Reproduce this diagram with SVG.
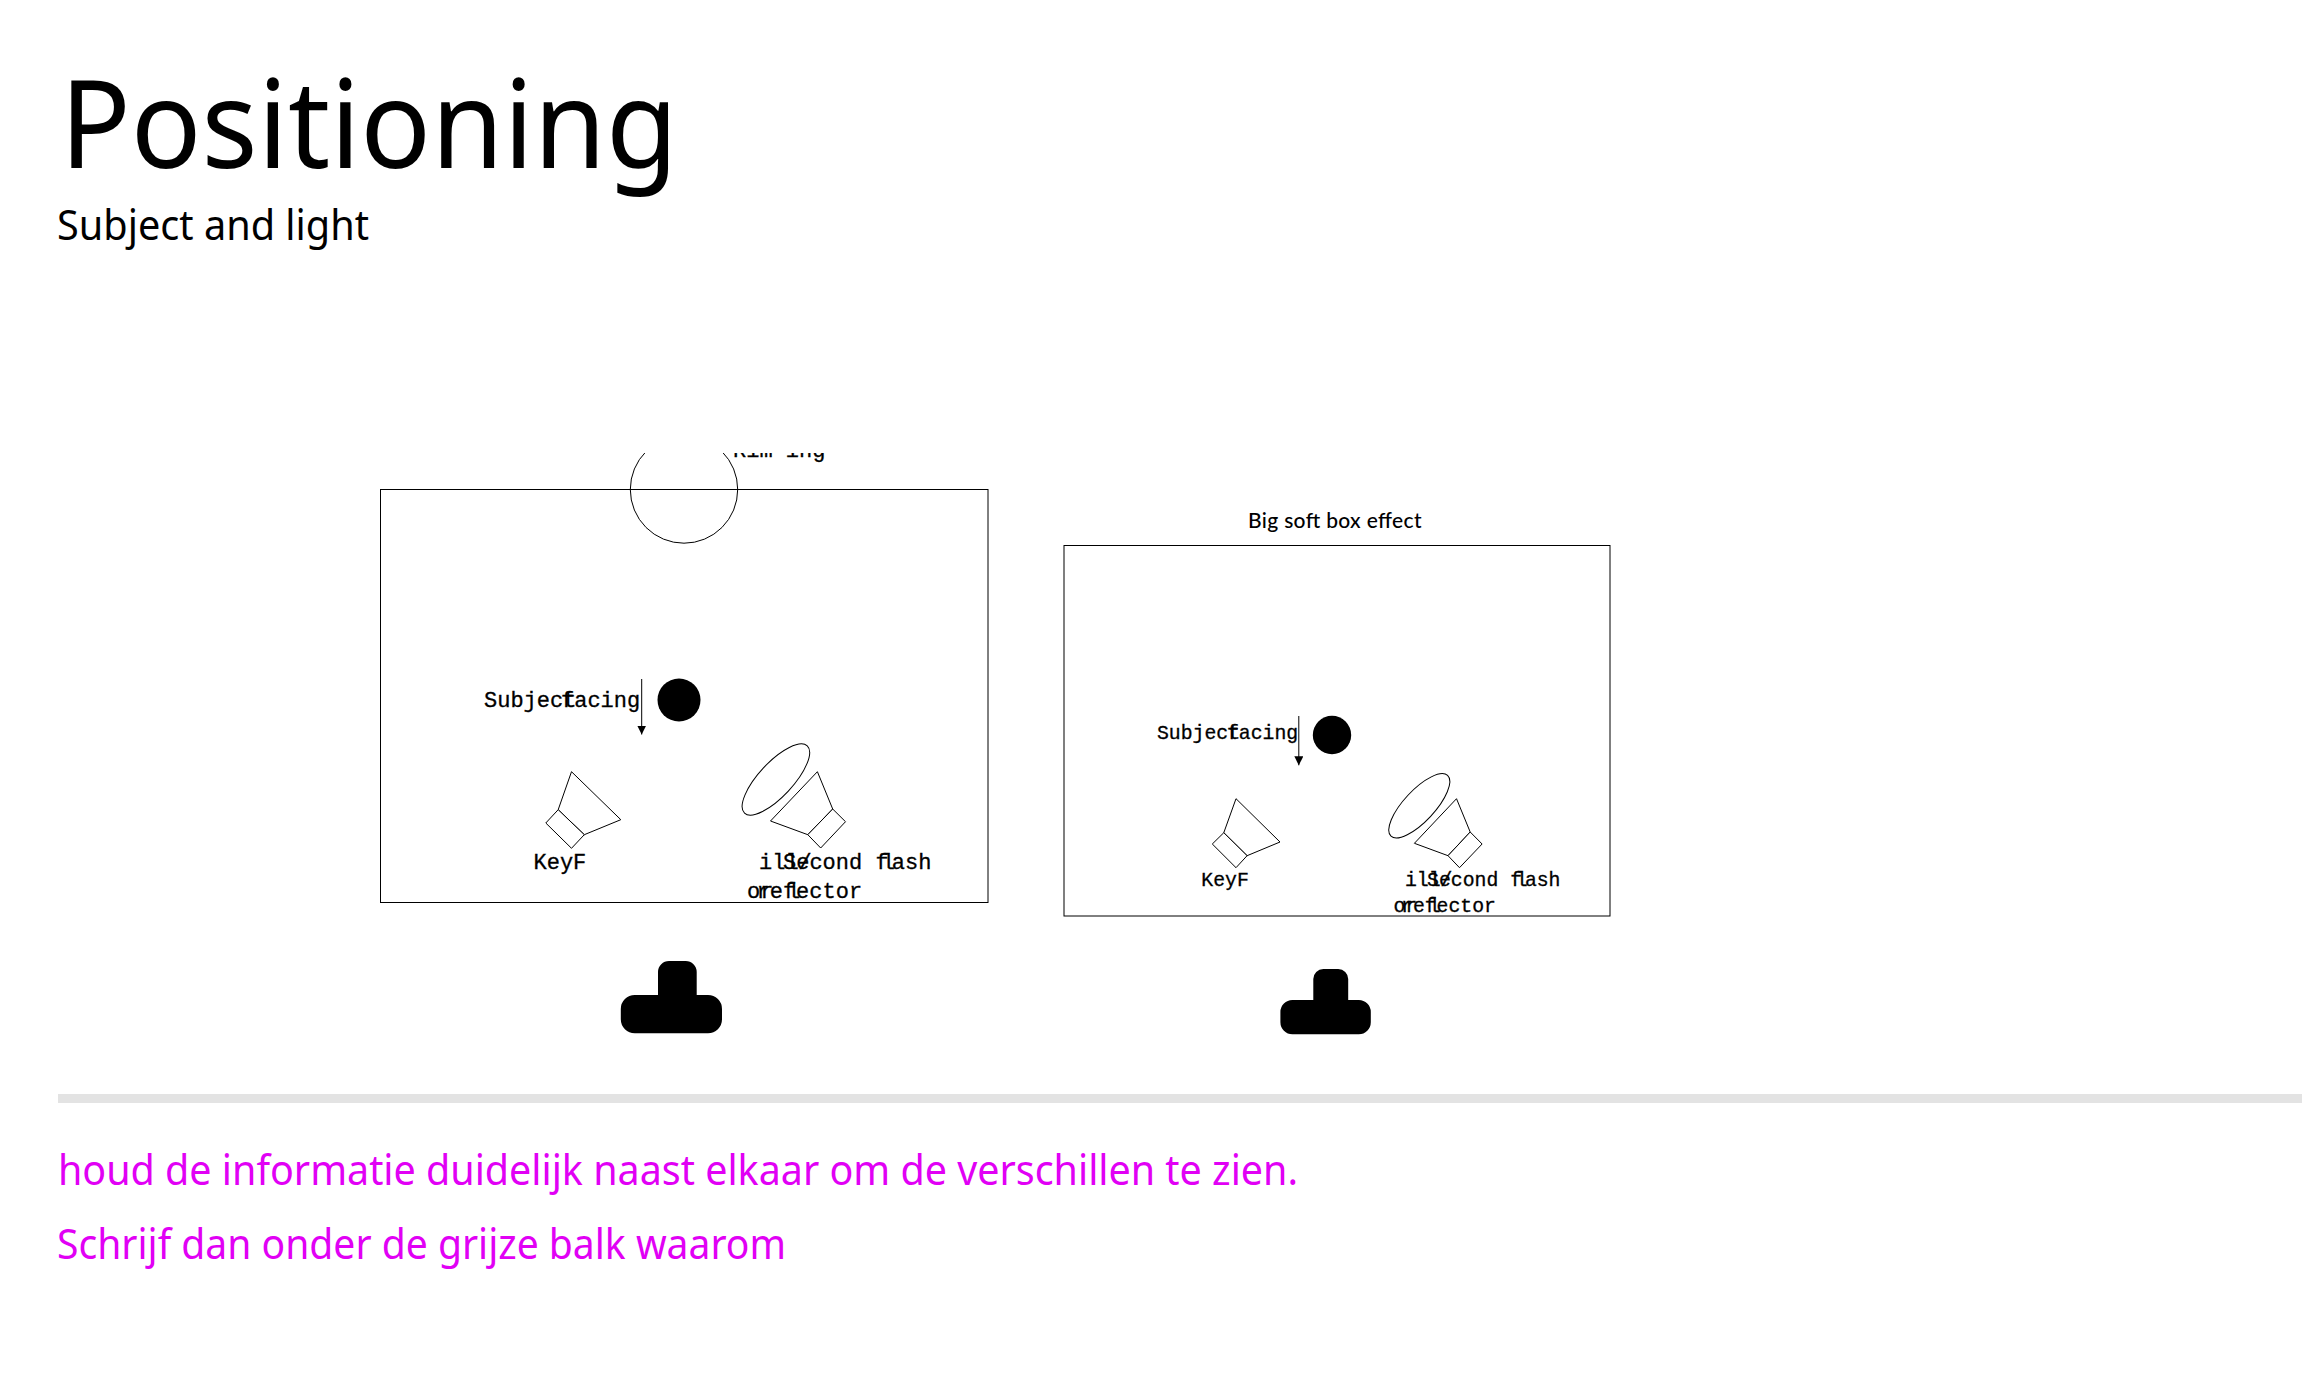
<svg xmlns="http://www.w3.org/2000/svg" width="2302" height="1396" viewBox="0 0 2302 1396">
<style>
.h{font-family:"Noto Sans","Open Sans",sans-serif}
.t{fill:#000}
.m{fill:#e100f5;font-size:42px}
.o{fill:none;stroke:#000;stroke-width:1}
.f{fill:#fff;stroke:#000;stroke-width:1}
.k{fill:#000}
.a{font-family:"Liberation Mono",monospace;fill:#000;stroke:#000;stroke-width:.3;font-size:22px}
.b{font-family:"Liberation Mono",monospace;fill:#000;stroke:#000;stroke-width:.3;font-size:19.8px}
.c{stroke:#000;stroke-width:1;fill:none}
</style>
<defs>
<marker id="ah" markerUnits="userSpaceOnUse" markerWidth="10" markerHeight="9" refX="9" refY="4.5" orient="auto"><path d="M0 0L9 4.5L0 9Z" fill="#000"/></marker>
<clipPath id="top"><rect x="0" y="453" width="2302" height="943"/></clipPath>
</defs>
<rect width="2302" height="1396" fill="#fff"/>
<g id="heading">
<text class="h t" x="60" y="168" font-size="122" font-weight="400" textLength="618" lengthAdjust="spacingAndGlyphs">Positioning</text>
<text class="h t" x="57" y="240" font-size="41" font-weight="400" textLength="312" lengthAdjust="spacingAndGlyphs">Subject and light</text>
</g>
<g id="figure-1-frame"><rect class="o" x="380.5" y="489.5" width="607.5" height="413"/></g>
<g id="figure-1-backdrop" clip-path="url(#top)">
<circle class="o" cx="684" cy="489.5" r="53.7"/>
<text class="a" x="733" y="457">Rim ing</text>
</g>
<g id="figure-1-subject">
<circle class="k" cx="679" cy="700" r="21.5"/>
<text class="a" x="484" y="707">Subject</text>
<text class="a" x="561" y="707">facing</text>
</g>
<g id="figure-1-key">
<path class="f" d="M571.5 771.7L620.8 819.7L584.3 834.7L558.2 809.7Z"/>
<path class="f" d="M558.2 809.7L584.3 834.7L571.5 848.3L545.8 823Z"/>
<text class="a" x="533.5" y="869">Key</text>
<text class="a" x="573" y="869">F</text>
</g>
<g id="figure-1-fill">
<ellipse class="o" cx="775.9" cy="779.5" rx="46" ry="17" transform="rotate(-47 775.9 779.5)"/>
<path class="f" d="M817.4 771.7L832.7 809L807.8 834.7L770.5 821Z"/>
<path class="f" d="M832.7 809L845.5 821.7L820.7 848L807.8 834.7Z"/>
<text class="a" x="759" y="869">ill/</text>
<text class="a" x="783" y="869" dx="0 0 0 0 0 0 0 0 -7 -3">Second flash</text>
<text class="a" x="747" y="898">or</text>
<text class="a" x="756.5" y="898" dx="0 0 0 -9 -4.2">reflector</text>
</g>
<g id="figure-1-camera"><path class="k" d="M669 961H685.7A11 11 0 0 1 696.7 972V995H708A14 14 0 0 1 722 1009V1019.3A14 14 0 0 1 708 1033.3H634.8A14 14 0 0 1 620.8 1019.3V1009A14 14 0 0 1 634.8 995H658V972A11 11 0 0 1 669 961Z"/></g>

<g id="figure-2-title"><text x="1248" y="528" font-family="Lato,sans-serif" font-size="21px" font-weight="500" textLength="173.5" fill="#000">Big soft box effect</text></g>
<g id="figure-2-frame"><rect class="o" x="1064" y="545.5" width="546" height="370.5"/></g>
<g id="figure-2-subject">
<circle class="k" cx="1332" cy="735" r="19.2"/>
<text class="b" x="1157" y="739">Subject</text>
<text class="b" x="1227" y="739">facing</text>
</g>
<g id="figure-2-key">
<path class="f" d="M1236 798.7L1280 842L1247.1 855.7L1223.8 832.7Z"/>
<path class="f" d="M1223.8 832.7L1247.1 855.7L1236 867.7L1212.3 844Z"/>
<text class="b" x="1201.3" y="886">Key</text>
<text class="b" x="1237" y="886">F</text>
</g>
<g id="figure-2-fill">
<ellipse class="o" cx="1419.3" cy="805.8" rx="41.5" ry="15.5" transform="rotate(-47 1419.3 805.8)"/>
<path class="f" d="M1456.5 798.7L1470.2 832L1448 855.7L1414.4 843.3Z"/>
<path class="f" d="M1470.2 832L1482.1 844L1459.5 867.7L1448 855.7Z"/>
<text class="b" x="1405" y="886">ill/</text>
<text class="b" x="1427" y="886" dx="0 0 0 0 0 0 0 0 -6.3 -2.7">Second flash</text>
<text class="b" x="1393.5" y="912">or</text>
<text class="b" x="1401" y="912" dx="0 0 0 -8.1 -3.8">reflector</text>
</g>
<g id="figure-2-camera"><path class="k" d="M1323.3 969H1338.2A10 10 0 0 1 1348.2 979V1000H1358.8A12 12 0 0 1 1370.8 1012V1022.3A12 12 0 0 1 1358.8 1034.3H1292.4A12 12 0 0 1 1280.4 1022.3V1012A12 12 0 0 1 1292.4 1000H1313.3V979A10 10 0 0 1 1323.3 969Z"/></g>

<g id="connectors">
<line class="c" x1="641.7" y1="679" x2="641.7" y2="734.5" marker-end="url(#ah)"/>
<line class="c" x1="1298.8" y1="716" x2="1298.8" y2="765.3" marker-end="url(#ah)"/>
</g>
<g id="divider"><rect x="58" y="1094" width="2244" height="9" fill="#e3e3e3"/></g>
<g id="notes">
<text class="h m" x="58" y="1185" textLength="1240" lengthAdjust="spacingAndGlyphs">houd de informatie duidelijk naast elkaar om de verschillen te zien.</text>
<text class="h m" x="57" y="1259" textLength="729" lengthAdjust="spacingAndGlyphs">Schrijf dan onder de grijze balk waarom</text>
</g>
</svg>
